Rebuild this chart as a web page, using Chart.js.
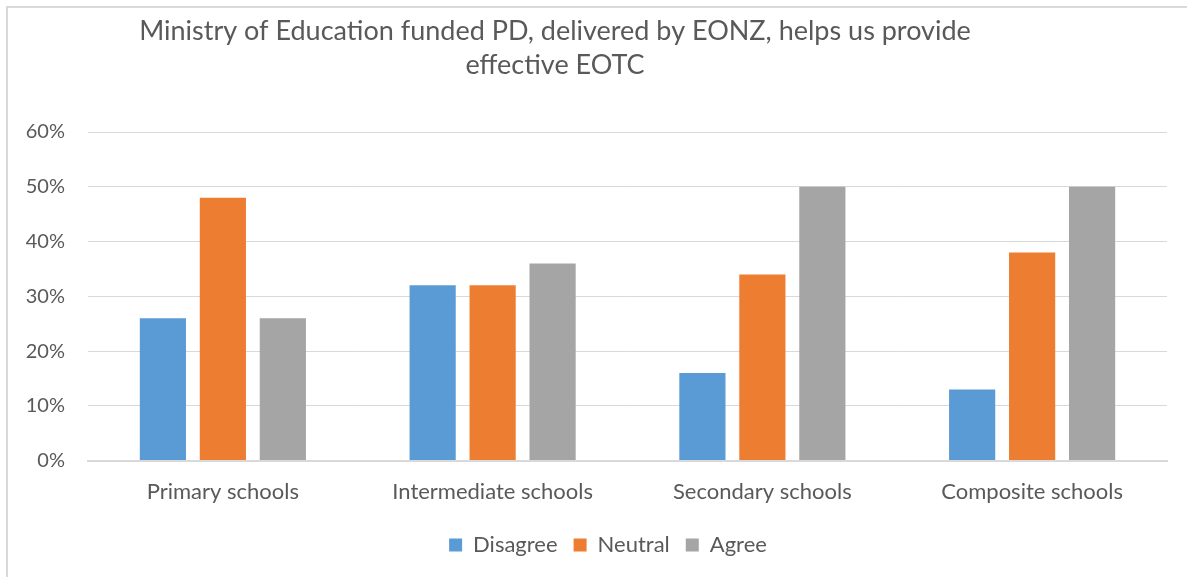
<!DOCTYPE html>
<html>
<head>
<meta charset="utf-8">
<script src="https://cdn.jsdelivr.net/npm/chart.js@4.4.1/dist/chart.umd.min.js"></script>
<style>
  html, body { margin: 0; padding: 0; background: #fff; }
  #wrap { position: relative; width: 1187px; height: 577px; overflow: hidden; }
  #frame { position: absolute; left: 6px; top: 6px; width: 1200px; height: 600px; border-left: 2px solid #d9d9d9; border-top: 2px solid #d9d9d9; box-sizing: border-box; }
  canvas { position: absolute; left: 0; top: 0; }
</style>
</head>
<body>
<div id="wrap">
  <div id="frame"></div>
  <canvas id="c" width="1187" height="577"></canvas>
</div>
<script>
const titleLines = ["Ministry of Education funded PD, delivered by EONZ, helps us provide", "effective EOTC"];
const categories = ["Primary schools", "Intermediate schools", "Secondary schools", "Composite schools"];
const disagree = [26, 32, 16, 13];
const neutral = [48, 32, 34, 38];
const agree = [26, 36, 50, 50];
const yTicks = [0, 10, 20, 30, 40, 50, 60];

const FONT = "Lato";
const TEXT = "#595959";

const titlePlugin = {
  id: 'customTitle',
  afterDraw(chart) {
    const ctx = chart.ctx;
    ctx.save();
    ctx.fillStyle = TEXT;
    ctx.font = "27px " + FONT;
    ctx.textAlign = "center";
    ctx.textBaseline = "middle";
    ctx.fillText(titleLines[0], 555, 31);
    ctx.fillText(titleLines[1], 555, 65);
    ctx.restore();
  }
};

const legendPlace = {
  id: 'legendPlace',
  afterLayout(chart) {
    const lg = chart.legend;
    const h = lg.bottom - lg.top;
    lg.left = 46; lg.right = 1170;
    lg.top = 518; lg.bottom = lg.top + h;
  }
};

new Chart(document.getElementById('c'), {
  type: 'bar',
  data: {
    labels: categories,
    datasets: [
      { label: 'Disagree', data: disagree, backgroundColor: '#5B9BD5' },
      { label: 'Neutral', data: neutral, backgroundColor: '#ED7D31' },
      { label: 'Agree', data: agree, backgroundColor: '#A5A5A5' }
    ]
  },
  options: {
    responsive: false,
    animation: false,
    categoryPercentage: 0.667,
    barPercentage: 0.77,
    layout: { padding: { top: 132, left: 0, right: 20, bottom: 6 } },
    plugins: {
      title: { display: false },
      tooltip: { enabled: false },
      legend: {
        position: 'bottom',
        labels: {
          boxWidth: 13, boxHeight: 13, padding: 16,
          color: TEXT, font: { family: FONT, size: 22 }
        }
      }
    },
    scales: {
      x: {
        grid: { display: false, drawTicks: false },
        border: { display: true, color: '#d9d9d9', width: 2 },
        ticks: { color: TEXT, font: { family: FONT, size: 22 }, padding: 18, maxRotation: 0 }
      },
      y: {
        min: 0, max: 60,
        afterBuildTicks(scale) { scale.ticks = yTicks.map(v => ({ value: v })); },
        afterFit(scale) { scale.width = 88; },
        grid: { color: '#d9d9d9', lineWidth: 1, drawTicks: false },
        border: { display: false },
        ticks: { color: TEXT, font: { family: FONT, size: 20 }, padding: 23, callback: v => v + '%' }
      }
    }
  },
  plugins: [titlePlugin, legendPlace]
});
</script>
</body>
</html>
